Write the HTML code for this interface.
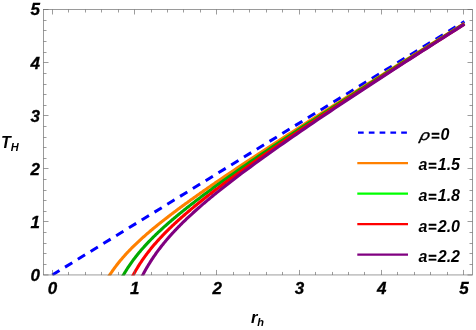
<!DOCTYPE html>
<html><head><meta charset="utf-8"><title>plot</title>
<style>html,body{margin:0;padding:0;background:#fff;}svg{display:block;}text{font-family:"Liberation Sans",sans-serif;}</style>
</head><body>
<svg style="will-change:transform" width="476" height="330" viewBox="0 0 476 330">
<rect x="0" y="0" width="476" height="330" fill="#ffffff"/>
<defs><clipPath id="clip"><rect x="43.5" y="9.5" width="429.0" height="266.05"/></clipPath></defs>
<g clip-path="url(#clip)" fill="none" stroke-linejoin="round">
<path d="M52.25,275.00 L464.41,21.55" stroke="#0000ff" stroke-width="3.0" stroke-dasharray="8.5 6.506" stroke-dashoffset="0"/>
<path d="M106.43,280.39 L107.22,279.04 L108.02,277.72 L108.81,276.43 L109.61,275.18 L110.40,273.95 L111.20,272.76 L111.99,271.58 L112.78,270.44 L113.58,269.32 L114.37,268.21 L115.17,267.14 L115.96,266.08 L116.76,265.04 L117.55,264.01 L118.35,263.01 L119.14,262.02 L119.93,261.05 L120.73,260.09 L121.52,259.15 L122.32,258.22 L123.11,257.31 L123.91,256.40 L124.70,255.51 L125.49,254.63 L126.29,253.77 L127.08,252.91 L127.88,252.06 L128.67,251.22 L129.47,250.39 L130.26,249.57 L131.06,248.76 L131.85,247.96 L132.64,247.17 L133.44,246.38 L134.23,245.60 L135.03,244.83 L135.82,244.06 L136.62,243.30 L137.41,242.55 L138.21,241.81 L139.00,241.07 L139.79,240.33 L140.59,239.60 L141.38,238.88 L142.18,238.16 L142.97,237.45 L143.77,236.74 L144.56,236.04 L145.35,235.34 L146.15,234.64 L146.94,233.95 L147.74,233.27 L148.53,232.58 L149.33,231.91 L150.12,231.23 L150.92,230.56 L151.71,229.89 L152.50,229.23 L153.30,228.57 L154.09,227.91 L154.89,227.26 L155.68,226.61 L156.48,225.96 L157.27,225.32 L158.07,224.67 L158.86,224.04 L159.65,223.40 L160.45,222.76 L161.24,222.13 L162.04,221.50 L162.83,220.88 L163.63,220.25 L164.42,219.63 L165.21,219.01 L166.01,218.40 L166.80,217.78 L167.60,217.17 L168.39,216.56 L169.19,215.95 L169.98,215.34 L170.78,214.73 L171.57,214.13 L172.36,213.53 L173.16,212.93 L173.95,212.33 L174.75,211.73 L175.54,211.14 L176.34,210.55 L177.13,209.95 L177.92,209.36 L178.72,208.77 L179.51,208.19 L180.31,207.60 L181.10,207.02 L181.90,206.43 L182.69,205.85 L183.49,205.27 L184.28,204.69 L185.07,204.11 L185.87,203.54 L186.66,202.96 L187.46,202.39 L188.25,201.82 L189.05,201.24 L189.84,200.67 L190.64,200.10 L191.43,199.53 L192.22,198.97 L193.02,198.40 L193.81,197.83 L194.61,197.27 L195.40,196.71 L196.20,196.14 L196.99,195.58 L197.78,195.02 L198.58,194.46 L199.37,193.90 L200.17,193.34 L200.96,192.79 L201.76,192.23 L202.55,191.67 L203.35,191.12 L204.14,190.56 L204.93,190.01 L205.73,189.46 L206.52,188.91 L207.32,188.36 L208.11,187.80 L208.91,187.26 L209.70,186.71 L210.49,186.16 L211.29,185.61 L212.08,185.06 L212.88,184.52 L213.67,183.97 L214.47,183.43 L215.26,182.88 L216.06,182.34 L216.85,181.80 L221.05,178.94 L225.24,176.09 L229.44,173.26 L233.63,170.44 L237.83,167.64 L242.03,164.84 L246.22,162.06 L250.42,159.29 L254.61,156.52 L258.81,153.76 L263.00,151.01 L267.20,148.27 L271.40,145.54 L275.59,142.81 L279.79,140.09 L283.98,137.37 L288.18,134.66 L292.38,131.95 L296.57,129.25 L300.77,126.56 L304.96,123.86 L309.16,121.17 L313.36,118.49 L317.55,115.81 L321.75,113.13 L325.94,110.46 L330.14,107.79 L334.34,105.12 L338.53,102.46 L342.73,99.79 L346.92,97.13 L351.12,94.48 L355.31,91.82 L359.51,89.17 L363.71,86.52 L367.90,83.87 L372.10,81.23 L376.29,78.58 L380.49,75.94 L384.69,73.30 L388.88,70.66 L393.08,68.03 L397.27,65.39 L401.47,62.76 L405.67,60.13 L409.86,57.50 L414.06,54.87 L418.25,52.24 L422.45,49.61 L426.65,46.99 L430.84,44.36 L435.04,41.74 L439.23,39.12 L443.43,36.50 L447.62,33.88 L451.82,31.26 L456.02,28.64 L460.21,26.03 L464.41,23.41" stroke="#ff8000" stroke-width="3.1"/>
<path d="M120.10,280.98 L120.79,279.66 L121.49,278.38 L122.18,277.12 L122.88,275.88 L123.58,274.68 L124.27,273.49 L124.97,272.33 L125.67,271.20 L126.36,270.08 L127.06,268.99 L127.75,267.91 L128.45,266.86 L129.15,265.82 L129.84,264.80 L130.54,263.80 L131.23,262.81 L131.93,261.84 L132.63,260.88 L133.32,259.94 L134.02,259.01 L134.71,258.09 L135.41,257.19 L136.11,256.30 L136.80,255.42 L137.50,254.55 L138.19,253.69 L138.89,252.84 L139.59,252.01 L140.28,251.18 L140.98,250.36 L141.67,249.55 L142.37,248.75 L143.07,247.96 L143.76,247.18 L144.46,246.40 L145.16,245.64 L145.85,244.88 L146.55,244.12 L147.24,243.38 L147.94,242.64 L148.64,241.90 L149.33,241.18 L150.03,240.46 L150.72,239.74 L151.42,239.03 L152.12,238.33 L152.81,237.63 L153.51,236.94 L154.20,236.25 L154.90,235.57 L155.60,234.89 L156.29,234.22 L156.99,233.55 L157.68,232.89 L158.38,232.23 L159.08,231.58 L159.77,230.92 L160.47,230.28 L161.16,229.63 L161.86,228.99 L162.56,228.36 L163.25,227.73 L163.95,227.10 L164.64,226.47 L165.34,225.85 L166.04,225.23 L166.73,224.62 L167.43,224.00 L168.13,223.39 L168.82,222.79 L169.52,222.18 L170.21,221.58 L170.91,220.98 L171.61,220.39 L172.30,219.79 L173.00,219.20 L173.69,218.61 L174.39,218.03 L175.09,217.45 L175.78,216.86 L176.48,216.29 L177.17,215.71 L177.87,215.13 L178.57,214.56 L179.26,213.99 L179.96,213.42 L180.65,212.86 L181.35,212.29 L182.05,211.73 L182.74,211.17 L183.44,210.61 L184.13,210.05 L184.83,209.50 L185.53,208.94 L186.22,208.39 L186.92,207.84 L187.62,207.29 L188.31,206.74 L189.01,206.20 L189.70,205.65 L190.40,205.11 L191.10,204.57 L191.79,204.03 L192.49,203.49 L193.18,202.95 L193.88,202.42 L194.58,201.88 L195.27,201.35 L195.97,200.82 L196.66,200.29 L197.36,199.76 L198.06,199.23 L198.75,198.70 L199.45,198.18 L200.14,197.65 L200.84,197.13 L201.54,196.60 L202.23,196.08 L202.93,195.56 L203.62,195.04 L204.32,194.52 L205.02,194.01 L205.71,193.49 L206.41,192.97 L207.11,192.46 L207.80,191.95 L208.50,191.43 L209.19,190.92 L209.89,190.41 L210.59,189.90 L211.28,189.39 L211.98,188.88 L212.67,188.38 L213.37,187.87 L214.07,187.36 L214.76,186.86 L215.46,186.35 L216.15,185.85 L216.85,185.35 L221.05,182.33 L225.24,179.34 L229.44,176.38 L233.63,173.43 L237.83,170.50 L242.03,167.59 L246.22,164.70 L250.42,161.82 L254.61,158.96 L258.81,156.10 L263.00,153.27 L267.20,150.44 L271.40,147.62 L275.59,144.82 L279.79,142.02 L283.98,139.23 L288.18,136.45 L292.38,133.68 L296.57,130.92 L300.77,128.16 L304.96,125.41 L309.16,122.66 L313.36,119.93 L317.55,117.19 L321.75,114.47 L325.94,111.74 L330.14,109.03 L334.34,106.31 L338.53,103.61 L342.73,100.90 L346.92,98.20 L351.12,95.51 L355.31,92.82 L359.51,90.13 L363.71,87.44 L367.90,84.76 L372.10,82.08 L376.29,79.41 L380.49,76.74 L384.69,74.07 L388.88,71.40 L393.08,68.74 L397.27,66.07 L401.47,63.41 L405.67,60.76 L409.86,58.10 L414.06,55.45 L418.25,52.80 L422.45,50.15 L426.65,47.50 L430.84,44.86 L435.04,42.22 L439.23,39.57 L443.43,36.93 L447.62,34.30 L451.82,31.66 L456.02,29.03 L460.21,26.39 L464.41,23.76" stroke="#00aa00" stroke-width="3.1"/>
<path d="M129.94,281.42 L130.57,280.15 L131.19,278.90 L131.82,277.68 L132.44,276.48 L133.07,275.31 L133.69,274.16 L134.32,273.03 L134.94,271.92 L135.57,270.83 L136.19,269.76 L136.82,268.71 L137.44,267.67 L138.07,266.65 L138.70,265.65 L139.32,264.67 L139.95,263.70 L140.57,262.75 L141.20,261.80 L141.82,260.88 L142.45,259.96 L143.07,259.06 L143.70,258.17 L144.32,257.30 L144.95,256.43 L145.57,255.58 L146.20,254.73 L146.82,253.90 L147.45,253.08 L148.07,252.26 L148.70,251.46 L149.32,250.67 L149.95,249.88 L150.57,249.10 L151.20,248.33 L151.83,247.57 L152.45,246.82 L153.08,246.07 L153.70,245.33 L154.33,244.60 L154.95,243.88 L155.58,243.16 L156.20,242.45 L156.83,241.74 L157.45,241.04 L158.08,240.35 L158.70,239.66 L159.33,238.98 L159.95,238.30 L160.58,237.63 L161.20,236.97 L161.83,236.31 L162.45,235.65 L163.08,235.00 L163.70,234.35 L164.33,233.71 L164.96,233.07 L165.58,232.44 L166.21,231.81 L166.83,231.18 L167.46,230.56 L168.08,229.95 L168.71,229.33 L169.33,228.72 L169.96,228.12 L170.58,227.51 L171.21,226.92 L171.83,226.32 L172.46,225.73 L173.08,225.14 L173.71,224.55 L174.33,223.97 L174.96,223.39 L175.58,222.81 L176.21,222.24 L176.83,221.66 L177.46,221.09 L178.09,220.53 L178.71,219.96 L179.34,219.40 L179.96,218.84 L180.59,218.29 L181.21,217.73 L181.84,217.18 L182.46,216.63 L183.09,216.08 L183.71,215.54 L184.34,215.00 L184.96,214.46 L185.59,213.92 L186.21,213.38 L186.84,212.84 L187.46,212.31 L188.09,211.78 L188.71,211.25 L189.34,210.72 L189.96,210.20 L190.59,209.67 L191.22,209.15 L191.84,208.63 L192.47,208.11 L193.09,207.59 L193.72,207.08 L194.34,206.56 L194.97,206.05 L195.59,205.54 L196.22,205.03 L196.84,204.52 L197.47,204.02 L198.09,203.51 L198.72,203.01 L199.34,202.50 L199.97,202.00 L200.59,201.50 L201.22,201.00 L201.84,200.50 L202.47,200.01 L203.09,199.51 L203.72,199.02 L204.35,198.53 L204.97,198.03 L205.60,197.54 L206.22,197.05 L206.85,196.56 L207.47,196.08 L208.10,195.59 L208.72,195.11 L209.35,194.62 L209.97,194.14 L210.60,193.66 L211.22,193.17 L211.85,192.69 L212.47,192.21 L213.10,191.74 L213.72,191.26 L214.35,190.78 L214.97,190.30 L215.60,189.83 L216.22,189.36 L216.85,188.88 L221.05,185.73 L225.24,182.60 L229.44,179.51 L233.63,176.45 L237.83,173.41 L242.03,170.39 L246.22,167.40 L250.42,164.43 L254.61,161.47 L258.81,158.53 L263.00,155.61 L267.20,152.70 L271.40,149.81 L275.59,146.93 L279.79,144.06 L283.98,141.20 L288.18,138.36 L292.38,135.52 L296.57,132.70 L300.77,129.88 L304.96,127.07 L309.16,124.27 L313.36,121.48 L317.55,118.69 L321.75,115.91 L325.94,113.14 L330.14,110.38 L334.34,107.62 L338.53,104.87 L342.73,102.12 L346.92,99.38 L351.12,96.64 L355.31,93.91 L359.51,91.18 L363.71,88.46 L367.90,85.74 L372.10,83.03 L376.29,80.32 L380.49,77.61 L384.69,74.91 L388.88,72.21 L393.08,69.52 L397.27,66.83 L401.47,64.14 L405.67,61.45 L409.86,58.77 L414.06,56.09 L418.25,53.42 L422.45,50.74 L426.65,48.07 L430.84,45.40 L435.04,42.74 L439.23,40.08 L443.43,37.41 L447.62,34.76 L451.82,32.10 L456.02,29.45 L460.21,26.79 L464.41,24.14" stroke="#ff0000" stroke-width="3.1"/>
<path d="M139.49,281.64 L140.05,280.47 L140.60,279.32 L141.16,278.19 L141.72,277.08 L142.27,275.98 L142.83,274.91 L143.39,273.85 L143.94,272.81 L144.50,271.79 L145.06,270.78 L145.61,269.78 L146.17,268.80 L146.73,267.84 L147.28,266.88 L147.84,265.95 L148.39,265.02 L148.95,264.11 L149.51,263.21 L150.06,262.32 L150.62,261.44 L151.18,260.57 L151.73,259.71 L152.29,258.87 L152.85,258.03 L153.40,257.21 L153.96,256.39 L154.52,255.58 L155.07,254.78 L155.63,253.99 L156.19,253.21 L156.74,252.44 L157.30,251.67 L157.86,250.92 L158.41,250.17 L158.97,249.43 L159.53,248.69 L160.08,247.96 L160.64,247.24 L161.20,246.53 L161.75,245.82 L162.31,245.12 L162.86,244.42 L163.42,243.73 L163.98,243.05 L164.53,242.37 L165.09,241.70 L165.65,241.03 L166.20,240.37 L166.76,239.72 L167.32,239.06 L167.87,238.42 L168.43,237.78 L168.99,237.14 L169.54,236.51 L170.10,235.88 L170.66,235.26 L171.21,234.64 L171.77,234.02 L172.33,233.41 L172.88,232.80 L173.44,232.20 L174.00,231.60 L174.55,231.01 L175.11,230.41 L175.67,229.83 L176.22,229.24 L176.78,228.66 L177.34,228.08 L177.89,227.51 L178.45,226.94 L179.00,226.37 L179.56,225.80 L180.12,225.24 L180.67,224.68 L181.23,224.12 L181.79,223.57 L182.34,223.02 L182.90,222.47 L183.46,221.92 L184.01,221.38 L184.57,220.84 L185.13,220.30 L185.68,219.77 L186.24,219.23 L186.80,218.70 L187.35,218.18 L187.91,217.65 L188.47,217.13 L189.02,216.60 L189.58,216.08 L190.14,215.57 L190.69,215.05 L191.25,214.54 L191.81,214.03 L192.36,213.52 L192.92,213.01 L193.48,212.50 L194.03,212.00 L194.59,211.50 L195.14,211.00 L195.70,210.50 L196.26,210.00 L196.81,209.51 L197.37,209.02 L197.93,208.52 L198.48,208.03 L199.04,207.55 L199.60,207.06 L200.15,206.57 L200.71,206.09 L201.27,205.61 L201.82,205.13 L202.38,204.65 L202.94,204.17 L203.49,203.69 L204.05,203.22 L204.61,202.74 L205.16,202.27 L205.72,201.80 L206.28,201.33 L206.83,200.86 L207.39,200.39 L207.95,199.92 L208.50,199.46 L209.06,198.99 L209.61,198.53 L210.17,198.07 L210.73,197.61 L211.28,197.15 L211.84,196.69 L212.40,196.23 L212.95,195.78 L213.51,195.32 L214.07,194.87 L214.62,194.41 L215.18,193.96 L215.74,193.51 L216.29,193.06 L216.85,192.61 L221.05,189.25 L225.24,185.94 L229.44,182.68 L233.63,179.45 L237.83,176.26 L242.03,173.10 L246.22,169.98 L250.42,166.88 L254.61,163.80 L258.81,160.75 L263.00,157.72 L267.20,154.71 L271.40,151.73 L275.59,148.75 L279.79,145.80 L283.98,142.86 L288.18,139.94 L292.38,137.03 L296.57,134.13 L300.77,131.24 L304.96,128.37 L309.16,125.51 L313.36,122.66 L317.55,119.81 L321.75,116.98 L325.94,114.16 L330.14,111.34 L334.34,108.54 L338.53,105.74 L342.73,102.95 L346.92,100.16 L351.12,97.39 L355.31,94.62 L359.51,91.85 L363.71,89.09 L367.90,86.34 L372.10,83.60 L376.29,80.85 L380.49,78.12 L384.69,75.39 L388.88,72.66 L393.08,69.94 L397.27,67.22 L401.47,64.51 L405.67,61.80 L409.86,59.10 L414.06,56.40 L418.25,53.70 L422.45,51.01 L426.65,48.32 L430.84,45.63 L435.04,42.95 L439.23,40.27 L443.43,37.59 L447.62,34.92 L451.82,32.25 L456.02,29.58 L460.21,26.92 L464.41,24.25" stroke="#800080" stroke-width="3.1"/>
</g>
<path d="M52.5,274.95 v-5.0 M52.5,9.5 v5.0 M68.5,274.95 v-3.0 M68.5,9.5 v3.0 M85.5,274.95 v-3.0 M85.5,9.5 v3.0 M101.5,274.95 v-3.0 M101.5,9.5 v3.0 M118.5,274.95 v-3.0 M118.5,9.5 v3.0 M134.5,274.95 v-5.0 M134.5,9.5 v5.0 M151.5,274.95 v-3.0 M151.5,9.5 v3.0 M167.5,274.95 v-3.0 M167.5,9.5 v3.0 M183.5,274.95 v-3.0 M183.5,9.5 v3.0 M200.5,274.95 v-3.0 M200.5,9.5 v3.0 M216.5,274.95 v-5.0 M216.5,9.5 v5.0 M233.5,274.95 v-3.0 M233.5,9.5 v3.0 M249.5,274.95 v-3.0 M249.5,9.5 v3.0 M266.5,274.95 v-3.0 M266.5,9.5 v3.0 M282.5,274.95 v-3.0 M282.5,9.5 v3.0 M299.5,274.95 v-5.0 M299.5,9.5 v5.0 M315.5,274.95 v-3.0 M315.5,9.5 v3.0 M332.5,274.95 v-3.0 M332.5,9.5 v3.0 M348.5,274.95 v-3.0 M348.5,9.5 v3.0 M364.5,274.95 v-3.0 M364.5,9.5 v3.0 M381.5,274.95 v-5.0 M381.5,9.5 v5.0 M397.5,274.95 v-3.0 M397.5,9.5 v3.0 M414.5,274.95 v-3.0 M414.5,9.5 v3.0 M430.5,274.95 v-3.0 M430.5,9.5 v3.0 M447.5,274.95 v-3.0 M447.5,9.5 v3.0 M463.5,274.95 v-5.0 M463.5,9.5 v5.0 M43.5,274.95 h5.0 M472.5,274.95 h-5.0 M43.5,264.50 h3.0 M472.5,264.50 h-3.0 M43.5,253.50 h3.0 M472.5,253.50 h-3.0 M43.5,243.50 h3.0 M472.5,243.50 h-3.0 M43.5,232.50 h3.0 M472.5,232.50 h-3.0 M43.5,221.50 h5.0 M472.5,221.50 h-5.0 M43.5,211.50 h3.0 M472.5,211.50 h-3.0 M43.5,200.50 h3.0 M472.5,200.50 h-3.0 M43.5,190.50 h3.0 M472.5,190.50 h-3.0 M43.5,179.50 h3.0 M472.5,179.50 h-3.0 M43.5,168.50 h5.0 M472.5,168.50 h-5.0 M43.5,158.50 h3.0 M472.5,158.50 h-3.0 M43.5,147.50 h3.0 M472.5,147.50 h-3.0 M43.5,137.50 h3.0 M472.5,137.50 h-3.0 M43.5,126.50 h3.0 M472.5,126.50 h-3.0 M43.5,115.50 h5.0 M472.5,115.50 h-5.0 M43.5,105.50 h3.0 M472.5,105.50 h-3.0 M43.5,94.50 h3.0 M472.5,94.50 h-3.0 M43.5,84.50 h3.0 M472.5,84.50 h-3.0 M43.5,73.50 h3.0 M472.5,73.50 h-3.0 M43.5,62.50 h5.0 M472.5,62.50 h-5.0 M43.5,52.50 h3.0 M472.5,52.50 h-3.0 M43.5,41.50 h3.0 M472.5,41.50 h-3.0 M43.5,30.50 h3.0 M472.5,30.50 h-3.0 M43.5,20.50 h3.0 M472.5,20.50 h-3.0 M43.5,9.50 h5.0 M472.5,9.50 h-5.0" stroke="#666666" stroke-width="0.65" fill="none"/>
<rect x="43.5" y="9.5" width="429.0" height="265.45" fill="none" stroke="#666666" stroke-width="0.65"/>
<g font-size="17" font-weight="bold" font-style="italic" fill="#000" stroke="#000" stroke-width="0.3">
<text x="52.55" y="294.35" text-anchor="middle">0</text>
<text x="134.85" y="294.35" text-anchor="middle">1</text>
<text x="217.15" y="294.35" text-anchor="middle">2</text>
<text x="299.45" y="294.35" text-anchor="middle">3</text>
<text x="381.75" y="294.35" text-anchor="middle">4</text>
<text x="464.05" y="294.35" text-anchor="middle">5</text>
<text x="39.90" y="280.70" text-anchor="end">0</text>
<text x="39.90" y="227.65" text-anchor="end">1</text>
<text x="39.90" y="174.60" text-anchor="end">2</text>
<text x="39.90" y="121.55" text-anchor="end">3</text>
<text x="39.90" y="68.50" text-anchor="end">4</text>
<text x="39.90" y="15.45" text-anchor="end">5</text>
</g>
<g font-weight="bold" font-style="italic" fill="#000">
<text x="0.9" y="147.6" font-size="16">T<tspan font-size="11" dy="3.2">H</tspan></text>
<text x="250.9" y="322.6" font-size="16.5">r<tspan font-size="11" dy="3.2">h</tspan></text>
</g>
<path d="M358.0,132.6 H407" stroke="#0000ff" stroke-width="2.2" stroke-dasharray="5.7 5.1" fill="none"/>
<path d="M357.3,163.1  H408" stroke="#ff8000" stroke-width="2.2" fill="none"/>
<path d="M357.3,193.6  H408" stroke="#00ff00" stroke-width="2.2" fill="none"/>
<path d="M357.3,224.1  H408" stroke="#ff0000" stroke-width="2.2" fill="none"/>
<path d="M357.3,254.6  H408" stroke="#800080" stroke-width="2.2" fill="none"/>
<g font-size="16" font-weight="bold" font-style="italic" fill="#000">
<text x="0" y="0" font-weight="normal" font-size="14.5" stroke="#000" stroke-width="0.35" transform="translate(419.3,140.00) skewX(-12) scale(1.18,1)">ρ</text>
<text x="431.0" y="140.30"><tspan font-size="14.5" dy="0.5" stroke="#000" stroke-width="0.3">=</tspan><tspan dy="-0.5" dx="1.0">0</tspan></text>
<text x="418.4" y="170.40">a<tspan font-size="14.5" dx="0.6" dy="0.5" stroke="#000" stroke-width="0.3">=</tspan><tspan dy="-0.5" dx="1.4">1.5</tspan></text>
<text x="418.4" y="201.30">a<tspan font-size="14.5" dx="0.6" dy="0.5" stroke="#000" stroke-width="0.3">=</tspan><tspan dy="-0.5" dx="1.4">1.8</tspan></text>
<text x="418.4" y="231.80">a<tspan font-size="14.5" dx="0.6" dy="0.5" stroke="#000" stroke-width="0.3">=</tspan><tspan dy="-0.5" dx="1.4">2.0</tspan></text>
<text x="418.4" y="262.30">a<tspan font-size="14.5" dx="0.6" dy="0.5" stroke="#000" stroke-width="0.3">=</tspan><tspan dy="-0.5" dx="1.4">2.2</tspan></text>
</g>
</svg></body></html>
